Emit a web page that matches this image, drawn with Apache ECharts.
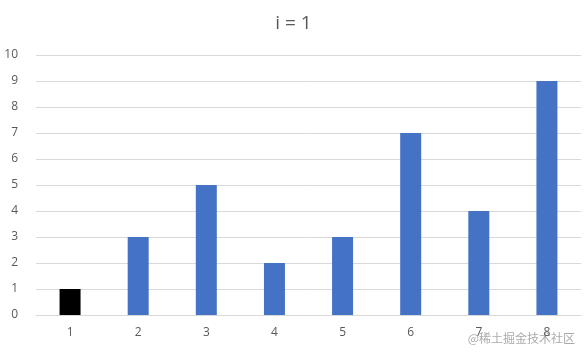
<!DOCTYPE html>
<html>
<head>
<meta charset="utf-8">
<script src="https://cdn.jsdelivr.net/npm/echarts@6/dist/echarts.min.js"></script>
<style>html,body{margin:0;padding:0;background:#fff}#root{width:587px;height:353px}</style>
</head>
<body>
<div id="root"></div>
<script>
const categories = ['1', '2', '3', '4', '5', '6', '7', '8'];
const values = [1, 3, 5, 2, 3, 7, 4, 9];
const highlightIndex = 0; // current i, drawn black

const chart = echarts.init(document.getElementById('root'), null, {renderer: 'canvas'});
chart.setOption({
  animation: false,
  title: {
    text: 'i = 1', left: 'center', top: 9,
    textStyle: {fontFamily: 'Open Sans', fontSize: 19, fontWeight: 'normal', color: '#595959'}
  },
  grid: {left: 36, right: 6, top: 55, bottom: 38},
  xAxis: {
    type: 'category', data: categories,
    axisLine: {lineStyle: {color: '#d9d9d9'}},
    axisTick: {show: false},
    axisLabel: {color: '#595959', fontSize: 12, fontFamily: 'Open Sans', margin: 12}
  },
  yAxis: {
    type: 'value', min: 0, max: 10, interval: 1,
    axisLabel: {color: '#595959', fontSize: 12, fontFamily: 'Open Sans', margin: 18},
    splitLine: {lineStyle: {color: '#d9d9d9'}}
  },
  series: [{
    type: 'bar', barWidth: 21,
    data: values.map((v, i) => i === highlightIndex ? {value: v, itemStyle: {color: '#000'}} : v),
    itemStyle: {color: '#4472C4'}
  }],
  graphic: [{
    type: 'text', right: 12, bottom: 9,
    style: {text: '@稀土掘金技术社区', fill: 'rgba(140,140,140,0.75)', font: '12px "Noto Sans CJK SC"'}
  }]
});
</script>
</body>
</html>
